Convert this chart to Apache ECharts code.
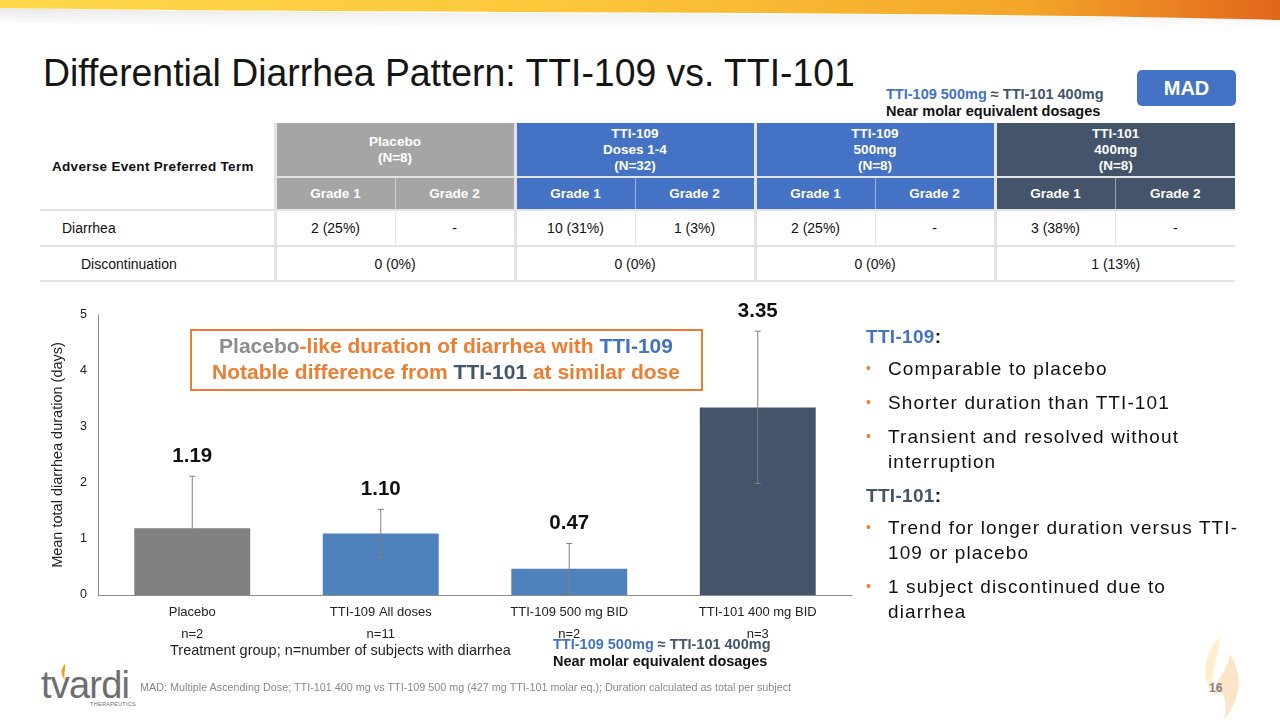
<!DOCTYPE html>
<html>
<head>
<meta charset="utf-8">
<script src="https://cdn.jsdelivr.net/npm/echarts@6/dist/echarts.min.js"></script>
<style>
  body { margin:0; width:1280px; height:720px; background:#fff; position:relative; overflow:hidden;
         font-family:"Liberation Sans", Arial, sans-serif; color:#111; }
  .abs { position:absolute; }
  #title { left:43px; top:52px; font-size:38px; white-space:nowrap; transform-origin:left top; color:#151515; }
  #mad { left:1137px; top:70px; width:99px; height:36px; background:#4472C4; border-radius:5px;
         color:#fff; font-weight:bold; font-size:20px; line-height:36px; text-align:center; }
  .eq { font-weight:bold; font-size:14.5px; line-height:17px; white-space:nowrap; }
  .blue { color:#4472C4; }
  .slate { color:#44546A; }
  #tbl { left:40px; top:123px; border-collapse:collapse; font-size:14px; table-layout:fixed; }
  #tbl td { padding:0; text-align:center; border-bottom:2px solid #e3e3e3; }
  #tbl .hd { color:#fff; font-weight:bold; font-size:13.5px; line-height:16px; }
  #tbl .g0 { background:#A5A5A5; }
  #tbl .g1, #tbl .g2 { background:#4472C4; }
  #tbl .g3 { background:#44546A; }
  #tbl .sep { border-left:3px solid #e3e3e3; }
  #tbl .sub { border-left:1px solid rgba(255,255,255,0.45); }
  #tbl .cellsub { border-left:1px solid #e8e8e8; }
  #right { left:866px; top:324px; width:378px; font-size:19px; letter-spacing:1.1px; line-height:25px; }
  #right .h { font-weight:bold; letter-spacing:0.3px; margin-bottom:7px; }
  #right ul { margin:0; padding:0; list-style:none; }
  #right li { position:relative; padding-left:22px; margin-bottom:9px; }
  #right li::before { content:"\2022"; color:#ED7D31; position:absolute; left:0; top:0; font-size:14px; }
  #chart { left:0; top:300px; width:870px; height:350px; }
  #foot { left:140px; top:681px; font-size:10.8px; color:#8a8a8a; white-space:nowrap; }
  #page { left:1209px; top:681px; font-size:12px; font-weight:bold; color:#7f7f7f; }
</style>
</head>
<body>
<svg class="abs" style="left:0;top:0" width="1280" height="40">
  <defs>
    <linearGradient id="band" x1="0" x2="1" y1="0" y2="0">
      <stop offset="0" stop-color="#FFD84A"/>
      <stop offset="0.45" stop-color="#FCC63A"/>
      <stop offset="0.8" stop-color="#F4A62A"/>
      <stop offset="1" stop-color="#E2661B"/>
    </linearGradient>
    <linearGradient id="shade" x1="0" x2="0" y1="0" y2="1">
      <stop offset="0" stop-color="#d8d8d8" stop-opacity="0.6"/>
      <stop offset="1" stop-color="#ffffff" stop-opacity="0"/>
    </linearGradient>
  </defs>
  <path d="M0,8 C400,16 900,12 1280,20 L1280,36 C900,26 400,30 0,22 Z" fill="url(#shade)"/>
  <path d="M0,0 L1280,0 L1280,20 C900,10 400,14 0,8 Z" fill="url(#band)"/>
</svg>

<div id="title" class="abs">Differential Diarrhea Pattern: TTI-109 vs. TTI-101</div>
<div class="abs eq" style="left:886px;top:86px"><span class="blue">TTI-109 500mg</span> <span class="slate">≈ TTI-101 400mg</span><br>Near molar equivalent dosages</div>
<div id="mad" class="abs">MAD</div>

<table id="tbl" class="abs"></table>

<div id="chart" class="abs"></div>

<div class="abs" style="left:170px;top:642px;font-size:14.5px;color:#222;white-space:nowrap">Treatment group; n=number of subjects with diarrhea</div>
<div class="abs eq" style="left:553px;top:636px"><span class="blue">TTI-109 500mg</span> <span class="slate">≈ TTI-101 400mg</span><br>Near molar equivalent dosages</div>

<div id="right" class="abs">
  <div class="h"><span class="blue">TTI-109</span>:</div>
  <ul>
    <li>Comparable to placebo</li>
    <li>Shorter duration than TTI-101</li>
    <li>Transient and resolved without interruption</li>
  </ul>
  <div class="h"><span class="slate">TTI-101</span>:</div>
  <ul>
    <li>Trend for longer duration versus TTI-<wbr>109 or placebo</li>
    <li>1 subject discontinued due to diarrhea</li>
  </ul>
</div>

<div class="abs" style="left:41px;top:664px;font-size:38px;color:#6d6e71;letter-spacing:-0.8px;line-height:42px">tvardi<span style="font-size:8px;letter-spacing:0">.</span></div>
<svg class="abs" style="left:58px;top:664px" width="14" height="16"><path d="M7,0 C2,6 3,11 7,16 C5,10 8,6 7,0 Z" fill="#F29A24"/></svg>
<div class="abs" style="left:90px;top:701px;font-size:5.5px;color:#6d6e71;letter-spacing:0.3px">THERAPEUTICS</div>
<div id="foot" class="abs">MAD: Multiple Ascending Dose; TTI-101 400 mg vs TTI-109 500 mg (427 mg TTI-101 molar eq.); Duration calculated as total per subject</div>
<svg class="abs" style="left:1190px;top:636px" width="60" height="84" opacity="0.28">
  <path d="M30,0 C14,18 10,40 22,56 C20,38 28,24 30,0 Z" fill="#FFC94A"/>
  <path d="M40,18 C54,40 50,64 34,84 C40,62 30,50 24,60 C24,44 38,36 40,18 Z" fill="#F7A23A"/>
</svg>
<div id="page" class="abs">16</div>

<script>
// chart values
var categories = ['Placebo', 'TTI-109 All doses', 'TTI-109 500 mg BID', 'TTI-101 400 mg BID'];
var subjectCounts = ['n=2', 'n=11', 'n=2', 'n=3'];
var meanDuration = [1.19, 1.10, 0.47, 3.35];
var errorSD = [0.93, 0.43, 0.45, 1.36];

// table values
var groupHeads = [['Placebo', '(N=8)'], ['TTI-109', 'Doses 1-4', '(N=32)'], ['TTI-109', '500mg', '(N=8)'], ['TTI-101', '400mg', '(N=8)']];
var gradeHeads = ['Grade 1', 'Grade 2'];
var diarrheaRow = ['2 (25%)', '-', '10 (31%)', '1 (3%)', '2 (25%)', '-', '3 (38%)', '-'];
var discontinuationRow = ['0 (0%)', '0 (0%)', '0 (0%)', '1 (13%)'];

var barColors = ['#808080', '#4F81BD', '#4F81BD', '#44546A'];
var FONT = '"Liberation Sans", Arial, sans-serif';

// fit title width like the slide
var title = document.getElementById('title');
title.style.transform = 'scaleX(' + (812 / title.scrollWidth) + ')';

// build table
var tbl = document.getElementById('tbl');
var html = '<colgroup><col style="width:235px">';
for (var c = 0; c < 8; c++) html += '<col style="width:120px">';
html += '</colgroup>';
html += '<tr style="height:54px"><td rowspan="2" style="text-align:left;padding-left:12px;font-weight:bold;font-size:13.5px;letter-spacing:0.3px">Adverse Event Preferred Term</td>';
groupHeads.forEach(function (g, i) {
  html += '<td colspan="2" class="hd g' + i + ' sep">' + g.join('<br>') + '</td>';
});
html += '</tr><tr style="height:33px">';
groupHeads.forEach(function (g, i) {
  html += '<td class="hd g' + i + ' sep">' + gradeHeads[0] + '</td><td class="hd g' + i + ' sub">' + gradeHeads[1] + '</td>';
});
html += '</tr><tr style="height:36px"><td style="text-align:left;padding-left:22px">Diarrhea</td>';
diarrheaRow.forEach(function (v, i) {
  html += '<td class="' + (i % 2 === 0 ? 'sep' : 'cellsub') + '">' + v + '</td>';
});
html += '</tr><tr style="height:35px"><td style="text-align:left;padding-left:41px">Discontinuation</td>';
discontinuationRow.forEach(function (v) {
  html += '<td colspan="2" class="sep">' + v + '</td>';
});
html += '</tr>';
tbl.innerHTML = html;

// chart
var chart = echarts.init(document.getElementById('chart'));
var option = {
  animation: false,
  grid: { left: 98, right: 18, top: 15, bottom: 55 },
  xAxis: {
    type: 'category',
    data: categories.map(function (c, i) { return c + '\n' + subjectCounts[i]; }),
    axisLine: { lineStyle: { color: '#8c8c8c' } },
    axisTick: { show: false },
    axisLabel: { color: '#222', fontSize: 13, fontFamily: FONT, lineHeight: 22, margin: 6 }
  },
  yAxis: {
    type: 'value',
    min: 0, max: 5, interval: 1,
    name: 'Mean total diarrhea duration (days)',
    nameLocation: 'middle',
    nameGap: 33,
    nameTextStyle: { color: '#222', fontSize: 14.5, fontFamily: FONT },
    axisLine: { show: true, lineStyle: { color: '#8c8c8c' } },
    axisTick: { show: false },
    splitLine: { show: false },
    axisLabel: { color: '#222', fontSize: 12.5, fontFamily: FONT, margin: 11 }
  },
  series: [
    {
      type: 'bar',
      barWidth: '61.5%',
      data: meanDuration.map(function (v, i) { return { value: v, itemStyle: { color: barColors[i] } }; })
    },
    {
      type: 'custom',
      encode: { x: 0, y: 1 },
      data: meanDuration.map(function (v, i) { return [i, v, errorSD[i]]; }),
      z: 5,
      renderItem: function (params, api) {
        var i = api.value(0), m = api.value(1), e = api.value(2);
        var top = api.coord([i, m + e]);
        var bot = api.coord([i, Math.max(0, m - e)]);
        var cap = 3;
        var st = { stroke: '#808080', lineWidth: 1 };
        return {
          type: 'group',
          children: [
            { type: 'line', shape: { x1: top[0], y1: top[1], x2: bot[0], y2: bot[1] }, style: st },
            { type: 'line', shape: { x1: top[0] - cap, y1: top[1], x2: top[0] + cap, y2: top[1] }, style: st },
            { type: 'line', shape: { x1: bot[0] - cap, y1: bot[1], x2: bot[0] + cap, y2: bot[1] }, style: st },
            { type: 'text', style: { text: m.toFixed(2), x: top[0], y: top[1] - 20, align: 'center', verticalAlign: 'middle',
                fontSize: 20.5, fontWeight: 'bold', fontFamily: FONT, fill: '#111' } }
          ]
        };
      }
    }
  ],
  graphic: [
    { type: 'rect', shape: { x: 191, y: 30, width: 511, height: 60 },
      style: { fill: '#fff', stroke: '#ED7D31', lineWidth: 2 }, z: 10 },
    { type: 'text', x: 446, y: 60, z: 11,
      style: {
        text: '{g|Placebo}{o|-like duration of diarrhea with }{b|TTI-109}\n{o|Notable difference from }{d|TTI-101}{o| at similar dose}',
        align: 'center', verticalAlign: 'middle', fontFamily: FONT, fontWeight: 'bold', fontSize: 21, lineHeight: 26,
        rich: {
          g: { fill: '#8C8C8C', fontWeight: 'bold', fontSize: 21, fontFamily: FONT, lineHeight: 26 },
          o: { fill: '#ED7D31', fontWeight: 'bold', fontSize: 21, fontFamily: FONT, lineHeight: 26 },
          b: { fill: '#4472C4', fontWeight: 'bold', fontSize: 21, fontFamily: FONT, lineHeight: 26 },
          d: { fill: '#44546A', fontWeight: 'bold', fontSize: 21, fontFamily: FONT, lineHeight: 26 }
        }
      }
    }
  ]
};
chart.setOption(option);
</script>
</body>
</html>
